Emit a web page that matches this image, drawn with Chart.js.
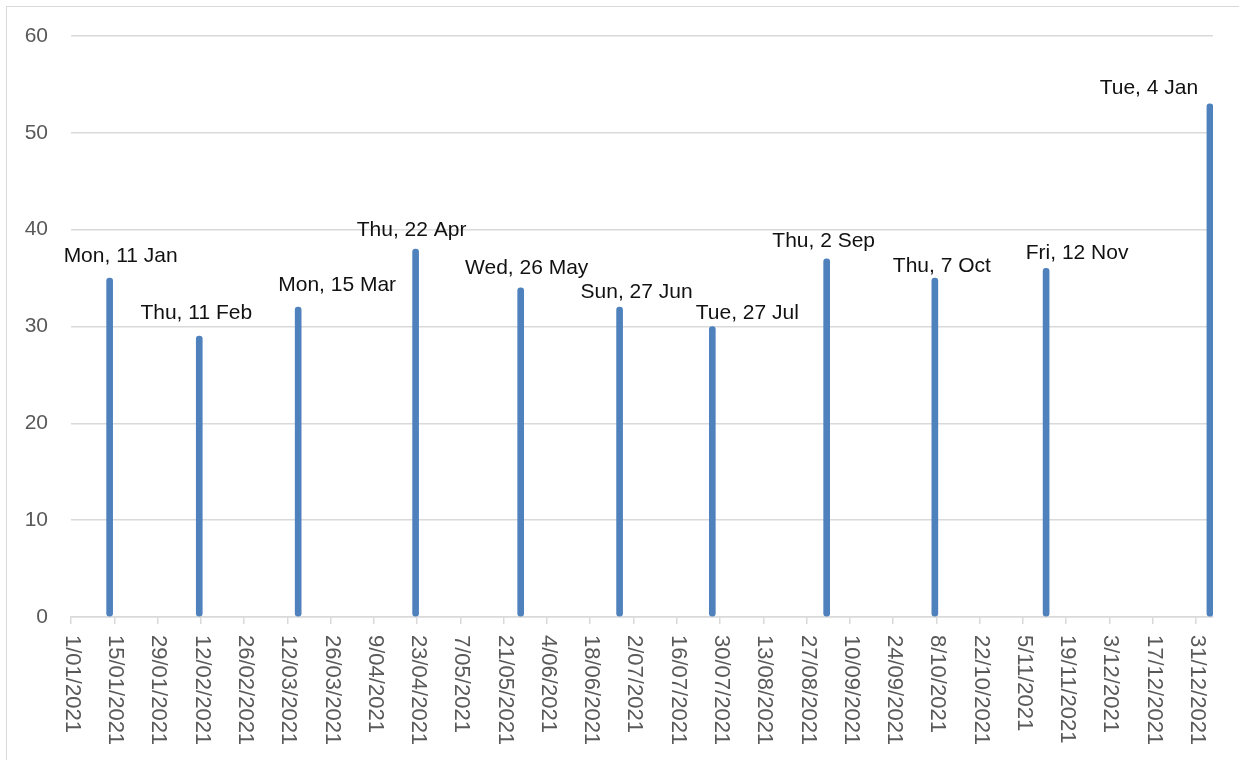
<!DOCTYPE html>
<html>
<head>
<meta charset="utf-8">
<script src="https://cdn.jsdelivr.net/npm/chart.js@4"></script>
<style>
    html, body { margin: 0; padding: 0; background: #fff; overflow: hidden; }
    #frame {
        position: absolute; left: 6px; top: 6px; width: 1400px; height: 900px;
        border: 1.5px solid #d9d9d9; box-sizing: border-box;
    }
    #chart { position: absolute; left: 0; top: 0; }
</style>
</head>
<body>
<div id="frame"></div>
<canvas id="chart" width="1239" height="760"></canvas>
<script>
// Data
const barDates = ['2021-01-13', '2021-02-11', '2021-03-15', '2021-04-22', '2021-05-26', '2021-06-27',
                  '2021-07-27', '2021-09-02', '2021-10-07', '2021-11-12', '2022-01-04'];
const barValues = [35, 29, 32, 38, 34, 32, 30, 37, 35, 36, 53];
const barLabels = ['Mon, 11 Jan', 'Thu, 11 Feb', 'Mon, 15 Mar', 'Thu, 22 Apr', 'Wed, 26 May', 'Sun, 27 Jun',
                   'Tue, 27 Jul', 'Thu, 2 Sep', 'Thu, 7 Oct', 'Fri, 12 Nov', 'Tue, 4 Jan'];

// Axis: dates are counted in days from the axis start
const axisStart = '2021-01-01';
const axisEnd = '2022-01-05';
const tickStepDays = 14;
const tickLastDate = '2021-12-31';
const yTicks = [0, 10, 20, 30, 40, 50, 60];

// Label nudges (pixels, relative to top of bar) - labels were hand-placed in the original
const labelNudge = [[11, -16], [-3, -17], [39, -16], [-4, -13], [6, -13.5], [17, -9.5],
                    [35, -7.5], [-3, -12], [7, -6.5], [31, -9.5], [-61, -9.5]];

const DAY = 86400000;
function toUTC(s) {
    const p = s.split('-').map(Number);
    return Date.UTC(p[0], p[1] - 1, p[2]);
}
function dayOf(s) {
    return (toUTC(s) - toUTC(axisStart)) / DAY;
}
function formatDay(v) {
    const d = new Date(toUTC(axisStart) + v * DAY);
    return d.getUTCDate() + '/' + String(d.getUTCMonth() + 1).padStart(2, '0') + '/' + d.getUTCFullYear();
}

const tickDays = [];
for (let d = 0; d <= dayOf(tickLastDate); d += tickStepDays) tickDays.push(d);

const FONT = '"Liberation Sans", Arial, sans-serif';
Chart.defaults.font.family = FONT;

// bar sits in the middle of its day slot
const points = barDates.map((d, i) => ({ x: dayOf(d) + 0.5, y: barValues[i] }));

const dataLabelPlugin = {
    id: 'dataLabels',
    afterDatasetsDraw(chart) {
        const ctx = chart.ctx;
        const yScale = chart.scales.y;
        const meta = chart.getDatasetMeta(0);
        ctx.save();
        ctx.font = '21px ' + FONT;
        ctx.fillStyle = '#111';
        ctx.textAlign = 'center';
        ctx.textBaseline = 'alphabetic';
        meta.data.forEach((bar, i) => {
            const top = yScale.getPixelForValue(barValues[i]);
            const n = labelNudge[i];
            ctx.fillText(barLabels[i], bar.x + n[0], top + n[1]);
        });
        ctx.restore();
    }
};

// x labels read top to bottom (rotated clockwise), which Chart.js does not do itself
const xLabelPlugin = {
    id: 'xLabels',
    afterDraw(chart) {
        const ctx = chart.ctx;
        const xScale = chart.scales.x;
        const y0 = chart.chartArea.bottom + 18;
        ctx.save();
        ctx.font = '22px ' + FONT;
        ctx.fillStyle = '#595959';
        ctx.textAlign = 'left';
        ctx.textBaseline = 'middle';
        tickDays.forEach(d => {
            const x = xScale.getPixelForValue(d);
            ctx.save();
            ctx.translate(x + 1, y0);
            ctx.rotate(Math.PI / 2);
            ctx.fillText(formatDay(d), 0, 0);
            ctx.restore();
        });
        ctx.restore();
    }
};

new Chart(document.getElementById('chart').getContext('2d'), {
    type: 'bar',
    data: {
        datasets: [{
            data: points,
            backgroundColor: '#4f81bd',
            barThickness: 6,
            borderRadius: 3,
            borderSkipped: false
        }]
    },
    options: {
        responsive: false,
        animation: false,
        layout: { padding: { top: 36, right: 26, bottom: 0, left: 0 } },
        plugins: {
            legend: { display: false },
            tooltip: { enabled: false }
        },
        scales: {
            x: {
                type: 'linear',
                offset: false,
                min: 0,
                max: dayOf(axisEnd) + 0.5,
                afterBuildTicks: scale => { scale.ticks = tickDays.map(v => ({ value: v })); },
                afterFit: scale => { scale.height = 143; },
                ticks: { display: false, autoSkip: false },
                grid: { offset: false, drawOnChartArea: false, drawTicks: true, tickLength: 7, color: '#d9d9d9', lineWidth: 1.5 },
                border: { color: '#d9d9d9', width: 1.5 }
            },
            y: {
                min: 0,
                max: 60,
                afterBuildTicks: scale => { scale.ticks = yTicks.map(v => ({ value: v })); },
                afterFit: scale => { scale.width = 71; },
                ticks: { color: '#595959', font: { size: 21 }, padding: 23 },
                grid: { color: '#d9d9d9', lineWidth: 1.5, drawTicks: false },
                border: { display: false }
            }
        }
    },
    plugins: [dataLabelPlugin, xLabelPlugin]
});
</script>
</body>
</html>
